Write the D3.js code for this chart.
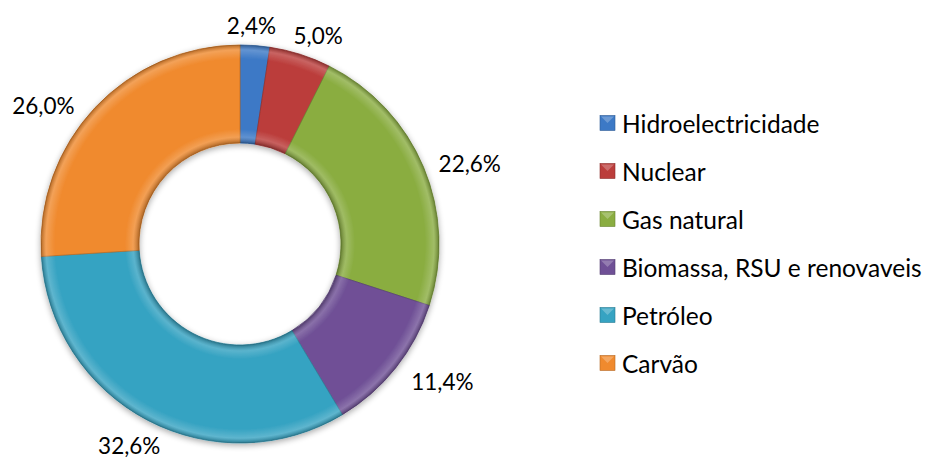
<!DOCTYPE html>
<html lang="pt">
  <head>
    <meta charset="utf-8">
    <title>Energia primaria</title>
    <script src="https://cdn.jsdelivr.net/npm/d3@7"></script>
    <style>
      body { margin: 0; background: white; }
      text { font-family: Lato, "Open Sans", sans-serif; fill: #000; }
    </style>
  </head>
  <body>
    <script>
      var categories = ["Hidroelectricidade", "Nuclear", "Gas natural", "Biomassa, RSU e renovaveis", "Petróleo", "Carvão"];
      var values = [2.4, 5.0, 22.6, 11.4, 32.6, 26.0];
      var labels = ["2,4%", "5,0%", "22,6%", "11,4%", "32,6%", "26,0%"];

      var colors = ["#3c79c6", "#bb3d3b", "#8aad41", "#6f5096", "#36a3c2", "#f08a2e"];
      // small manual nudges to mimic the spreadsheet's "best fit" label spots
      var nudge = [[-6, -3], [8, -3], [10, 3], [16, 3], [0, 10], [-23, 9]];

      var width = 926, height = 459;
      var cx = 240, cy = 244, rOut = 199, rIn = 101;

      var svg = d3.select("body").append("svg")
                  .attr("width", width)
                  .attr("height", height);

      var defs = svg.append("defs");

      var shadow = defs.append("filter").attr("id", "shadow")
                       .attr("x", "-10%").attr("y", "-10%").attr("width", "120%").attr("height", "120%");
      shadow.append("feGaussianBlur").attr("in", "SourceAlpha").attr("stdDeviation", 3);
      shadow.append("feOffset").attr("dx", 0).attr("dy", 2).attr("result", "b");
      shadow.append("feComponentTransfer").append("feFuncA").attr("type", "linear").attr("slope", 0.35);
      var merge = shadow.append("feMerge");
      merge.append("feMergeNode");
      merge.append("feMergeNode").attr("in", "SourceGraphic");

      // radial shading across the ring to fake the bevel look
      var bevel = defs.append("radialGradient").attr("id", "bevel")
                      .attr("gradientUnits", "userSpaceOnUse")
                      .attr("cx", 0).attr("cy", 0).attr("r", rOut);
      [[rIn / rOut, "#000", 0.28], [rIn / rOut + 0.03, "#fff", 0.18], [rIn / rOut + 0.07, "#fff", 0],
       [0.93, "#fff", 0], [0.975, "#fff", 0.2], [1, "#000", 0.25]].forEach(function(s) {
        bevel.append("stop").attr("offset", s[0]).attr("stop-color", s[1]).attr("stop-opacity", s[2]);
      });

      var pie = d3.pie().sort(null).value(function(d) { return d; });
      var arcs = pie(values);

      var arc = d3.arc().innerRadius(rIn).outerRadius(rOut);

      var g = svg.append("g").attr("transform", "translate(" + cx + "," + cy + ")");

      var ring = g.append("g").attr("filter", "url(#shadow)");
      ring.selectAll("path.slice")
          .data(arcs)
          .enter()
          .append("path")
            .attr("class", "slice")
            .attr("d", arc)
            .attr("fill", function(d, i) { return colors[i]; })
            .attr("stroke", function(d, i) { return d3.color(colors[i]).darker(0.6); })
            .attr("stroke-width", 0.8);

      ring.selectAll("path.shade")
          .data(arcs)
          .enter()
          .append("path")
            .attr("class", "shade")
            .attr("d", arc)
            .attr("fill", "url(#bevel)");

      // percentage labels, placed just outside the ring
      var gap = 8, fs = 22.5;
      g.selectAll("text.lbl")
       .data(arcs)
       .enter()
       .append("text")
         .attr("class", "lbl")
         .attr("font-size", fs)
         .attr("text-anchor", "middle")
         .attr("dominant-baseline", "central")
         .text(function(d, i) { return labels[i]; })
         .each(function(d, i) {
           var a = (d.startAngle + d.endAngle) / 2;
           var w = this.getComputedTextLength();
           var ax = Math.sin(a) * (rOut + gap), ay = -Math.cos(a) * (rOut + gap);
           var x = ax + Math.sin(a) * w / 2 + nudge[i][0];
           var y = ay - Math.cos(a) * fs * 0.4 + nudge[i][1];
           d3.select(this).attr("x", x).attr("y", y);
         });

      // legend
      var legend = svg.append("g").attr("transform", "translate(600,123)");
      var row = legend.selectAll("g")
                      .data(categories)
                      .enter()
                      .append("g")
                        .attr("transform", function(d, i) { return "translate(0," + (i * 48) + ")"; });

      row.append("rect")
         .attr("x", 0).attr("y", -7.5)
         .attr("width", 15).attr("height", 15)
         .attr("fill", function(d, i) { return colors[i]; })
         .attr("stroke", function(d, i) { return d3.color(colors[i]).darker(0.8); })
         .attr("stroke-width", 0.6);

      row.append("path")
         .attr("d", "M1,-6.5 L14,-6.5 L7.5,0 Z")
         .attr("fill", "#fff")
         .attr("opacity", 0.25);

      row.append("text")
         .attr("x", 22)
         .attr("dominant-baseline", "central")
         .attr("font-size", 24.5)
         .text(function(d) { return d; });
    </script>
  </body>
</html>
